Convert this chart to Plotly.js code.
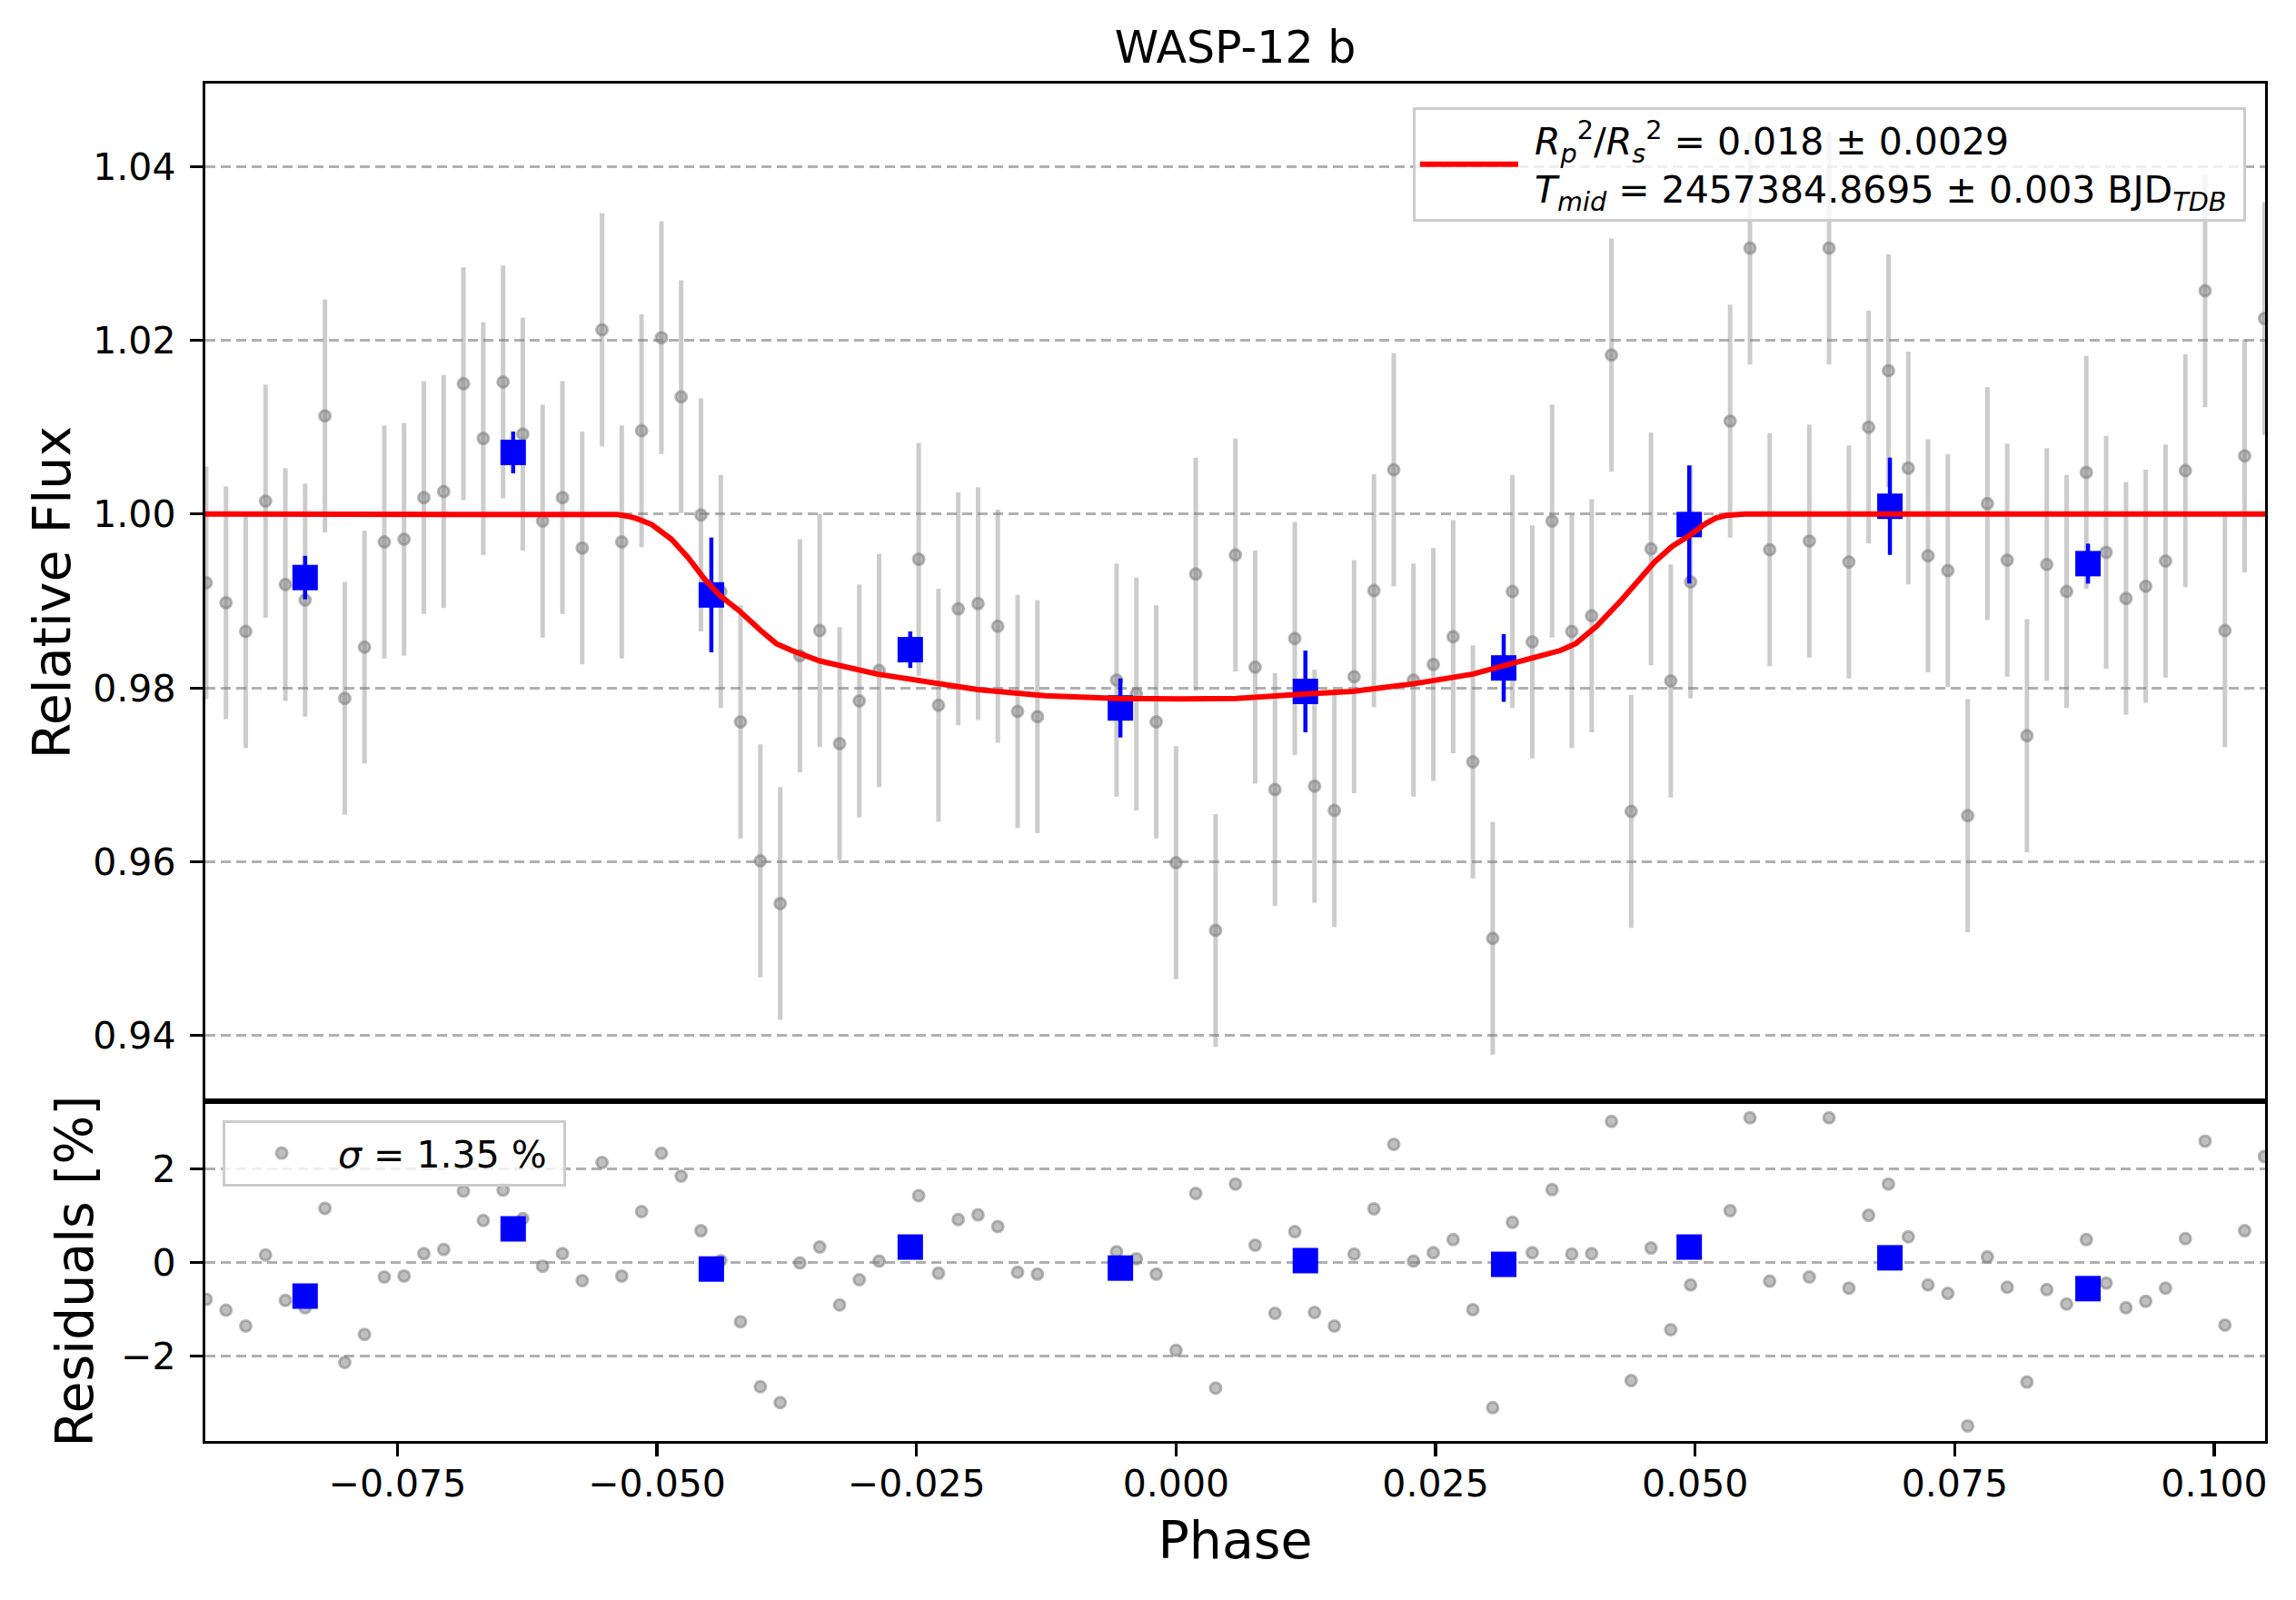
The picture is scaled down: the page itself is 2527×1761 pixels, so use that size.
<!DOCTYPE html>
<html>
<head>
<meta charset="utf-8">
<script src="https://cdn.plot.ly/plotly-3.0.1.min.js"></script>
<style>html,body{margin:0;padding:0;background:#fff;}#chart{width:2527px;height:1761px;}</style>
</head>
<body>
<div id="chart"></div>
<script>
// ---- data ----
const phase = [
-0.09342,-0.09151,-0.08961,-0.08770,-0.08579,-0.08389,-0.08198,-0.08007,-0.07817,-0.07626,
-0.07436,-0.07245,-0.07054,-0.06864,-0.06673,-0.06482,-0.06292,-0.06101,-0.05910,-0.05720,
-0.05529,-0.05339,-0.05148,-0.04957,-0.04767,-0.04576,-0.04385,-0.04195,-0.04004,-0.03813,
-0.03623,-0.03432,-0.03241,-0.03051,-0.02860,
-0.02479,-0.02288,-0.02098,-0.01907,-0.01717,-0.01526,-0.01335,
-0.00573,-0.00382,-0.00191,0.00000,0.00190,0.00381,0.00572,0.00762,0.00953,0.01144,
0.01334,0.01525,0.01715,0.01906,0.02097,0.02287,0.02478,0.02669,0.02859,0.03050,
0.03240,0.03431,0.03622,0.03812,0.04003,0.04194,0.04384,0.04575,0.04765,0.04956,
0.05337,0.05528,0.05718,
0.06100,0.06290,0.06481,0.06671,0.06862,0.07053,0.07243,0.07434,0.07625,0.07815,
0.08006,0.08196,0.08387,0.08578,0.08768,0.08959,0.09150,0.09340,0.09531,0.09722,
0.09912,0.10103,0.10293,0.10484
];
const flux = [
0.9921,0.9898,0.9865,1.0015,0.9919,0.9901,1.0113,0.9788,0.9847,0.9968,
0.9971,1.0019,1.0026,1.0150,1.0087,1.0152,1.0092,0.9992,1.0019,0.9961,
1.0212,0.9968,1.0096,1.0203,1.0135,0.9999,0.9911,0.9761,0.9601,0.9552,
0.9837,0.9866,0.9736,0.9785,0.9820,
0.9948,0.9780,0.9891,0.9897,0.9871,0.9773,0.9767,
0.9809,0.9793,0.9761,0.9599,0.9931,0.9521,0.9953,0.9824,0.9683,0.9857,
0.9687,0.9659,0.9813,0.9912,1.0051,0.9809,0.9827,0.9859,0.9715,0.9512,
0.9911,0.9853,0.9992,0.9865,0.9883,1.0183,0.9658,0.9960,0.9808,0.9922,
1.0107,1.0306,0.9959,
0.9969,1.0306,0.9945,1.0100,1.0165,1.0053,0.9952,0.9935,0.9653,1.0012,
0.9947,0.9745,0.9942,0.9911,1.0048,0.9956,0.9903,0.9917,0.9946,1.0050,
1.0257,0.9866,1.0067,1.0225
];
const fluxErr = 0.0134;
const residual = [
-0.79,-1.02,-1.36,0.16,-0.81,-0.97,1.16,-2.14,-1.54,-0.31,
-0.29,0.19,0.28,1.53,0.90,1.55,0.94,-0.08,0.19,-0.39,
2.14,-0.29,1.09,2.34,1.85,0.68,0.04,-1.27,-2.66,-3.00,
-0.01,0.33,-0.91,-0.37,0.03,
1.43,-0.23,0.92,1.02,0.77,-0.21,-0.25,
0.23,0.08,-0.25,-1.88,1.48,-2.69,1.68,0.37,-1.09,0.66,
-1.07,-1.36,0.18,1.15,2.53,0.03,0.21,0.49,-1.01,-3.11,
0.86,0.21,1.56,0.18,0.19,3.02,-2.53,0.31,-1.44,-0.48,
1.11,3.10,-0.40,
-0.31,3.10,-0.55,1.01,1.68,0.55,-0.48,-0.66,-3.50,0.12,
-0.53,-2.56,-0.58,-0.89,0.49,-0.44,-0.97,-0.83,-0.55,0.51,
2.60,-1.34,0.68,2.27
];
const binPhase = [-0.08389,-0.06385,-0.04476,-0.02560,-0.00536,0.01246,0.03156,0.04943,0.06876,0.08784];
const binFlux = [0.9927,1.0071,0.9907,0.9844,0.9777,0.9796,0.9823,0.9988,1.0009,0.9943];
const binErr = [0.0025,0.0024,0.0066,0.0021,0.0034,0.0047,0.0039,0.0068,0.0056,0.0023];
const binResidual = [-0.72,0.72,-0.14,0.33,-0.12,0.04,-0.04,0.33,0.10,-0.56];
const modelPhase = [-0.0935,-0.0548,-0.0538,-0.0528,-0.0519,-0.0505,-0.0486,-0.0470,-0.0454,-0.0440,-0.0420,-0.0400,-0.0385,-0.0370,-0.0343,-0.0288,-0.0248,-0.0191,-0.0126,-0.0057,0.0004,0.0058,0.0125,0.0170,0.0230,0.0286,0.0345,0.0370,0.0385,0.0405,0.0429,0.0446,0.0461,0.0478,0.0494,0.0510,0.0520,0.0530,0.0540,0.0548,0.1049];
const modelFlux = [1.0,1.0,0.99995,0.99975,0.99947,0.9988,0.9971,0.9950,0.9925,0.9907,0.9888,0.9866,0.9851,0.9843,0.9831,0.9816,0.9808,0.9798,0.9791,0.9788,0.97873,0.9788,0.9793,0.9796,0.9805,0.9816,0.9835,0.9843,0.9851,0.9871,0.9901,0.9925,0.9945,0.9963,0.9975,0.9989,0.99955,0.99985,0.99998,1.0,1.0];
const xTickVals = [-0.075,-0.05,-0.025,0,0.025,0.05,0.075,0.1];
const xTickText = ["\u22120.075","\u22120.050","\u22120.025","0.000","0.025","0.050","0.075","0.100"];
const yTickVals = [0.94,0.96,0.98,1.00,1.02,1.04];
const yTickText = ["0.94","0.96","0.98","1.00","1.02","1.04"];
const rTickVals = [-2,0,2];
const rTickText = ["\u22122","0","2"];
const titleText = "WASP-12 b";
const modelLabel = "\u00a0<i>R</i><sub><i>p</i></sub><sup>2</sup>/<i>R</i><sub><i>s</i></sub><sup>2</sup> = 0.018 \u00b1 0.0029<br>\u00a0<i>T</i><sub><i>mid</i></sub> = 2457384.8695 \u00b1 0.003 BJD<sub><i>TDB</i></sub>\u00a0";
const residLabel = "<i>\u03c3</i> = 1.35 %\u00a0";

// ---- styles ----
const FONT = "DejaVu Sans, sans-serif";
const greyMarker = {symbol:"circle", size:12, color:"rgba(128,128,128,0.5)", line:{color:"rgba(128,128,128,0.55)", width:3}};

const traces = [
  {x:phase, y:flux, xaxis:"x", yaxis:"y", type:"scatter", mode:"markers",
   marker:greyMarker, showlegend:false,
   error_y:{type:"constant", value:fluxErr, color:"rgba(128,128,128,0.4)", thickness:5, width:0}},
  {x:binPhase, y:binFlux, xaxis:"x", yaxis:"y", type:"scatter", mode:"markers",
   marker:{symbol:"square", size:28, color:"#0000ff"}, showlegend:false,
   error_y:{type:"data", array:binErr, color:"#0000ff", thickness:4.5, width:0}},
  {x:modelPhase, y:modelFlux, xaxis:"x", yaxis:"y", type:"scatter", mode:"lines",
   line:{color:"#ff0000", width:6}, name:modelLabel, showlegend:true, legend:"legend"},
  {x:phase, y:residual, xaxis:"x2", yaxis:"y2", type:"scatter", mode:"markers",
   marker:greyMarker, name:residLabel, showlegend:true, legend:"legend2"},
  {x:binPhase, y:binResidual, xaxis:"x2", yaxis:"y2", type:"scatter", mode:"markers",
   marker:{symbol:"square", size:28, color:"#0000ff"}, showlegend:false}
];

const axisCommon = {showline:true, linecolor:"#000", linewidth:3.3, mirror:true, zeroline:false,
  tickfont:{family:FONT, size:41, color:"#000"}, tickcolor:"#000", tickwidth:3.3, ticklen:14};

const layout = {
  width:2527, height:1761,
  paper_bgcolor:"#fff", plot_bgcolor:"#fff",
  font:{family:FONT, color:"#000"},
  margin:{l:226, r:34, t:92, b:175, pad:0},
  title:{text:titleText, font:{family:FONT, size:49, color:"#000"}, x:0.5, xanchor:"center", xref:"paper", y:0.9705, yref:"container", yanchor:"middle"},
  xaxis:Object.assign({}, axisCommon, {anchor:"y", domain:[0,1], range:[-0.0935,0.1049], showticklabels:false, ticks:"", showgrid:false, matches:"x2"}),
  yaxis:Object.assign({}, axisCommon, {anchor:"x", domain:[0.2503,1], range:[0.93245,1.04953], tickmode:"array", tickvals:yTickVals, ticktext:yTickText, ticks:"outside", ticklabelstandoff:7,
    showgrid:true, gridcolor:"#b0b0b0", gridwidth:3, griddash:"11px,6px",
    title:{text:"Relative Flux", font:{family:FONT, size:57, color:"#000"}, standoff:7}}),
  xaxis2:Object.assign({}, axisCommon, {anchor:"y2", domain:[0,1], range:[-0.0935,0.1049], tickmode:"array", tickvals:xTickVals, ticktext:xTickText, ticks:"outside", ticklabelstandoff:-6, showgrid:false,
    title:{text:"Phase", font:{family:FONT, size:57, color:"#000"}, standoff:20}}),
  yaxis2:Object.assign({}, axisCommon, {anchor:"x2", domain:[0,0.2503], range:[-3.823,3.453], tickmode:"array", tickvals:rTickVals, ticktext:rTickText, ticks:"outside", ticklabelstandoff:7,
    showgrid:true, gridcolor:"#b0b0b0", gridwidth:3, griddash:"11px,6px",
    title:{text:"Residuals [%]", font:{family:FONT, size:57, color:"#000"}, standoff:13}}),
  legend:{x:0.9907, xanchor:"right", y:0.9826, yanchor:"top", xref:"paper", yref:"paper",
    bgcolor:"rgba(255,255,255,0.8)", bordercolor:"#cccccc", borderwidth:3,
    font:{family:FONT, size:41, color:"#000"}, itemwidth:108, valign:"middle"},
  legend2:{x:0.0084, xanchor:"left", y:0.2363, yanchor:"top", xref:"paper", yref:"paper",
    bgcolor:"rgba(255,255,255,0.8)", bordercolor:"#cccccc", borderwidth:3,
    font:{family:FONT, size:41, color:"#000"}, itemwidth:114, valign:"middle"}
};

Plotly.newPlot("chart", traces, layout, {displayModeBar:false, staticPlot:true});
</script>
</body>
</html>
